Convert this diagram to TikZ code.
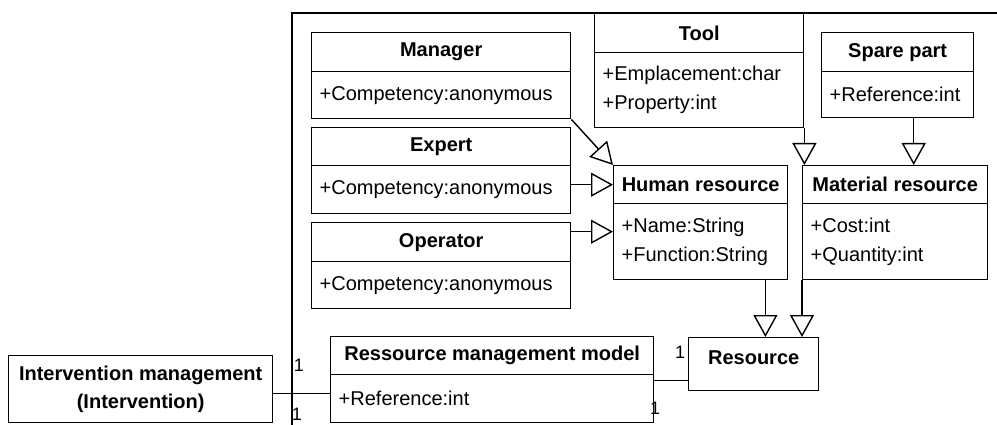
\documentclass[tikz,border=0pt]{standalone}
\usepackage{fontspec}
\setmainfont{Liberation Sans}
\usetikzlibrary{arrows.meta, positioning, calc}

\tikzset{
	classtitle/.style={draw, line width=1.4pt, anchor=north west, inner sep=0pt, font=\bfseries\fontsize{20}{28}\selectfont},
	classattr/.style={draw, line width=1.4pt, anchor=north west, inner xsep=8pt, inner ysep=0pt, align=left},
	inherit/.style={-{Triangle[open, length=22pt, width=24pt]}, line width=1.4pt},
	assoc/.style={line width=1.4pt},
	mult/.style={font=\fontsize{18}{18}\selectfont, inner sep=0pt}
}

\begin{document}
\begin{tikzpicture}[x=1pt, y=-1pt, font=\fontsize{20}{29}\selectfont]
		\useasboundingbox (0,0) rectangle (997,425);
		\clip (0,0) rectangle (997,425);
			%frame
			\draw[line width=1.4pt] (997,13) -- (292,13) -- (292,425);

			%human resources:
			\node[classtitle, minimum width=259pt, minimum height=39pt] (manager) at (311,32) {Manager};
			\node[classattr, text width=243pt, minimum height=47pt] (manager-b) at (311,71) {+Competency:anonymous};
			\node[classtitle, minimum width=259pt, minimum height=38pt] (expert) at (311,127) {Expert};
			\node[classattr, text width=243pt, minimum height=48pt] (expert-b) at (311,165) {+Competency:anonymous};
			\node[classtitle, minimum width=259pt, minimum height=39pt] (operator) at (311,222) {Operator};
			\node[classattr, text width=243pt, minimum height=47pt] (operator-b) at (311,261) {+Competency:anonymous};

			%material resources:
			\node[classtitle, minimum width=209pt, minimum height=39pt] (tool) at (594,13) {Tool};
			\node[classattr, text width=193pt, minimum height=75pt] (tool-b) at (594,52) {+Emplacement:char\\+Property:int};
			\node[classtitle, minimum width=152pt, minimum height=39pt] (spare) at (821,32) {Spare part};
			\node[classattr, text width=136pt, minimum height=46pt] (spare-b) at (821,71) {+Reference:int};

			\node[classtitle, minimum width=174pt, minimum height=38pt] (human) at (613,165) {Human resource};
			\node[classattr, text width=158pt, minimum height=76pt] (human-b) at (613,203) {+Name:String\\+Function:String};
			\node[classtitle, minimum width=185pt, minimum height=38pt] (material) at (802,165) {Material resource};
			\node[classattr, text width=169pt, minimum height=76pt] (material-b) at (802,203) {+Cost:int\\+Quantity:int};

			\node[classtitle, minimum width=130pt, minimum height=53pt, text depth=13pt] (resource) at (688,337) {Resource};

			%management:
			\node[classtitle, minimum width=323pt, minimum height=38pt] (rmm) at (330,336) {Ressource management model};
			\node[classattr, text width=307pt, minimum height=48pt] (rmm-b) at (330,374) {+Reference:int};
			\node[classtitle, minimum width=264pt, minimum height=67pt, align=center] (interv) at (8,355) {Intervention management\\(Intervention)};

			%generalisations
			\draw[inherit] (manager-b.south east) -- (human.north west);
			\draw[inherit] (expert-b.east |- human.west) -- (human.west);
			\coordinate (op-in) at ([yshift=10pt]human-b.west);
			\draw[inherit] (operator-b.east |- op-in) -- (op-in);
			\draw[inherit] (tool-b.south east) -- (tool-b.south east |- material.north);
			\coordinate (sp-out) at ([xshift=16pt]spare-b.south);
			\draw[inherit] (sp-out) -- (sp-out |- material.north);
			\coordinate (hr-out) at ([xshift=-23pt]human-b.south east);
			\draw[inherit] (hr-out) -- (hr-out |- resource.north);
			\draw[inherit] (material-b.south west) -- (material-b.south west |- resource.north);

			%associations
			\coordinate (res-in) at ([yshift=-16pt]resource.west);
			\draw[assoc] (res-in -| rmm-b.east) -- (res-in);
			\coordinate (rmm-in) at ([yshift=5pt]rmm-b.west);
			\draw[assoc] (interv.east |- rmm-in) -- (rmm-in);

			\node[mult] (m-res) at (680,352) {1};
			\node[mult] (m-rmm) at (655,408) {1};
			\node[mult] (m-rmm2) at (299,365) {1};
			\node[mult] (m-int) at (297,414) {1};
	\end{tikzpicture}
\end{document}
